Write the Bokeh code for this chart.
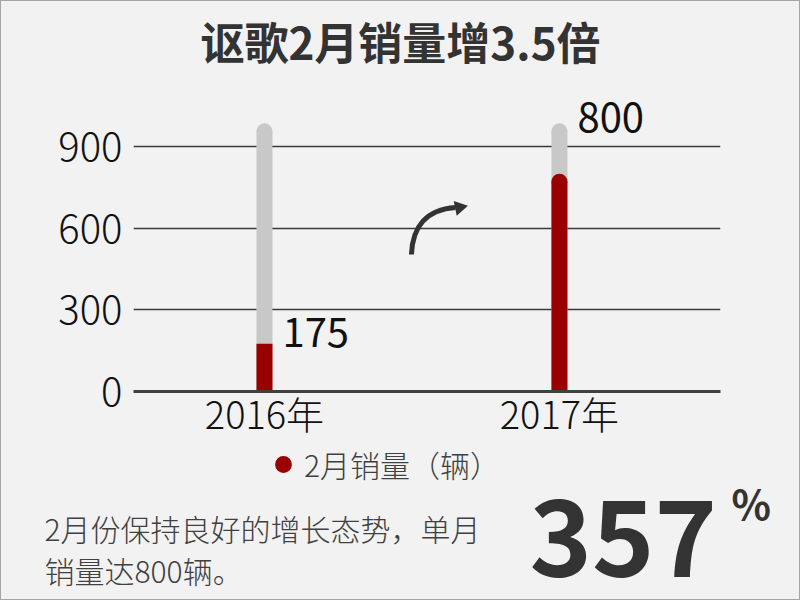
import math
from bokeh.plotting import figure
from bokeh.layouts import column
from bokeh.models import Range1d, FixedTicker, Label, Legend, LegendItem, ColumnDataSource
from bokeh.core.properties import value
from bokeh.embed import file_html
from bokeh.resources import INLINE

# ---- data ----
years = ["2016年", "2017年"]
sales = [175, 800]
track_max = [985, 985]
y_ticks = [0, 300, 600, 900]
growth_pct = "357"
title_text = "讴歌2月销量增3.5倍"
legend_text = "2月销量（辆）"
note_lines = ["2月份保持良好的增长态势，单月", "销量达800辆。"]

# ---- layout constants ----
W = 798
H_TOP = 80
FRAME_W, FRAME_H = 587, 310
H_MID = FRAME_H + 51
H_BOT = 598 - H_TOP - H_MID
X0, X1 = -0.444, 1.546
Y0, Y1 = 0, 1138.8
px_per_y = FRAME_H / (Y1 - Y0)
px_per_x = FRAME_W / (X1 - X0)
cap_r = 8 / px_per_y
bar_w = 16 / px_per_x

LIGHT = "'Noto Sans CJK SC Light', 'Noto Sans CJK SC', sans-serif"
REG = "'Noto Sans CJK SC', sans-serif"
BG = "#f2f2f2"
RED = "#990000"
GRAY = "#c8c8c8"
DARK = "#333333"


def blank(h):
    f = figure(width=W, height=h, output_backend="svg", toolbar_location=None,
               x_range=Range1d(0, W), y_range=Range1d(h, 0), title=None,
               x_axis_location=None, y_axis_location=None, min_border=0,
               background_fill_color=BG, border_fill_color=BG, outline_line_color=None)
    f.grid.visible = False
    f.frame_align = False
    return f


# ---- title strip ----
top = blank(H_TOP)
top.add_layout(Label(x=399, y=39, text=title_text, text_align="center",
                     text_baseline="middle", text_font=REG, text_font_style="bold",
                     text_font_size="44px", text_color=DARK))

# ---- main chart ----
p = figure(width=W, height=H_MID, output_backend="svg", toolbar_location=None,
           x_range=Range1d(X0, X1), y_range=Range1d(Y0, Y1), title=None,
           min_border_left=132, min_border_right=79, min_border_top=0,
           min_border_bottom=H_MID - FRAME_H, background_fill_color=BG,
           border_fill_color=BG, outline_line_color=None)
p.frame_align = False

xs = list(range(len(years)))

src_t = ColumnDataSource(dict(x=xs, top=[t - cap_r for t in track_max]))
p.vbar(x="x", top="top", bottom=0, width=bar_w, source=src_t, color=GRAY, line_color=None)
p.scatter(x="x", y="top", size=16, source=src_t, color=GRAY, line_color=None)

p.vbar(x=[xs[0]], top=[sales[0]], bottom=0, width=bar_w, color=RED, line_color=None)
p.vbar(x=[xs[1]], top=[sales[1] - cap_r], bottom=0, width=bar_w, color=RED, line_color=None)
p.scatter(x=[xs[1]], y=[sales[1] - cap_r], size=16, color=RED, line_color=None)

p.text(x=[xs[0]], y=[sales[0]], text=[str(sales[0])], x_offset=18, y_offset=-11,
       text_font=value(REG), text_font_size="40px", text_color="#111111",
       text_baseline="middle")
p.text(x=[xs[1]], y=[sales[1]], text=[str(sales[1])], x_offset=18, y_offset=-56,
       text_font=value(REG), text_font_size="40px", text_color="#111111",
       text_baseline="middle")


# curved arrow (decoration)
def dx(px):
    return (px - 264) / 295


def dy(py):
    return (391 - py) / px_per_y


p.bezier(x0=[dx(411)], y0=[dy(254)], x1=[dx(455)], y1=[dy(207)],
         cx0=[dx(412)], cy0=[dy(226)], cx1=[dx(426)], cy1=[dy(209)],
         line_color=DARK, line_width=5)
p.scatter(x=[dx(459)], y=[dy(207)], marker="triangle", size=15,
          angle=-math.pi / 2 + 0.2, color=DARK, line_color=None)

p.xgrid.grid_line_color = None
p.ygrid.grid_line_color = "#3a3a3a"
p.ygrid.grid_line_width = 1.5
p.ygrid.ticker = FixedTicker(ticks=y_ticks)

p.yaxis.ticker = FixedTicker(ticks=y_ticks)
p.yaxis.axis_line_color = None
p.yaxis.major_tick_line_color = None
p.yaxis.minor_tick_line_color = None
p.yaxis.major_label_standoff = 5
p.yaxis.major_label_text_font = LIGHT
p.yaxis.major_label_text_font_size = "40px"
p.yaxis.major_label_text_color = "#111111"

p.xaxis.ticker = FixedTicker(ticks=xs)
p.xaxis.major_label_overrides = {i: y for i, y in zip(xs, years)}
p.xaxis.axis_line_color = "#404040"
p.xaxis.axis_line_width = 3
p.xaxis.major_tick_line_color = None
p.xaxis.minor_tick_line_color = None
p.xaxis.major_label_standoff = -13
p.xaxis.major_label_text_font = LIGHT
p.xaxis.major_label_text_font_size = "38px"
p.xaxis.major_label_text_color = "#111111"

# ---- bottom strip: legend + note + big number ----
bot = blank(H_BOT)
leg_r = bot.scatter(x=[-50], y=[-50], size=16, color=RED, line_color=None)
legend = Legend(items=[LegendItem(label=legend_text, renderers=[leg_r])],
                location=(261, H_BOT - 23 - 21), orientation="horizontal",
                glyph_width=42, glyph_height=42, label_standoff=0, padding=0,
                margin=0, border_line_color=None, background_fill_alpha=0,
                label_text_font=LIGHT, label_text_font_size="30px",
                label_text_color="#404040", label_text_baseline="middle")
bot.add_layout(legend, "center")

for i, line in enumerate(note_lines):
    bot.add_layout(Label(x=43, y=85 + 42 * i, text=line, text_align="left",
                         text_baseline="middle", text_font=LIGHT,
                         text_font_size="30px", text_color="#404040"))

bot.add_layout(Label(x=528, y=95, text=growth_pct, text_align="left",
                     text_baseline="middle", text_font=REG, text_font_style="bold",
                     text_font_size="106px", text_color=DARK))
bot.add_layout(Label(x=730, y=59, text="%", text_align="left",
                     text_baseline="middle", text_font=REG, text_font_style="bold",
                     text_font_size="41px", text_color=DARK))

layout = column(top, p, bot, spacing=0)
layout.styles = {"border": "1px solid #a6a6a6", "background-color": BG}

open("out.html", "w").write(file_html(layout, INLINE))
